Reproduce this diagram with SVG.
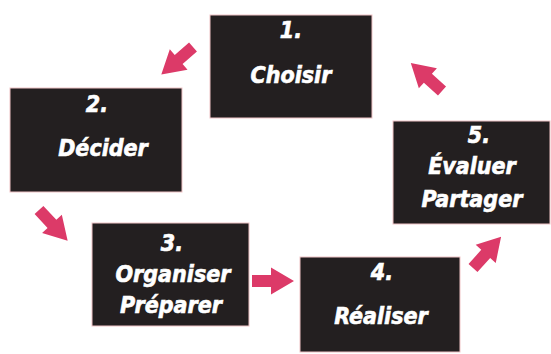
<svg xmlns="http://www.w3.org/2000/svg" width="551" height="354" viewBox="0 0 551 354">
<style>
.box{fill:#231f20;stroke:#f0c4c6;stroke-width:1}
.t{fill:#ffffff;stroke:#ffffff;stroke-width:0.6;font-family:"DejaVu Sans Condensed","Liberation Sans Narrow","DejaVu Sans",sans-serif;font-weight:bold;font-style:italic;font-size:23px;text-anchor:middle}
.arr{fill:#dc3a68}
</style>
<defs>
<polygon id="arrow" points="0,-6 19,-6 19,-13.5 42,0 19,13.5 19,6 0,6"/>
</defs>
<rect width="551" height="354" fill="#ffffff"/>
<g id="connectors" class="arr">
<use href="#arrow" transform="translate(193,47) rotate(139)"/>
<use href="#arrow" transform="translate(39,210) rotate(47)"/>
<use href="#arrow" transform="translate(252,281)"/>
<use href="#arrow" transform="translate(473,268) rotate(-48)"/>
<use href="#arrow" transform="translate(442,91) rotate(-138)"/>
</g>
<g id="node1">
<rect class="box" x="210" y="15" width="162" height="103"/>
<text class="t" x="291" y="38">1.</text>
<text class="t" x="291" y="83">Choisir</text>
</g>
<g id="node2">
<rect class="box" x="10" y="88" width="172" height="104"/>
<text class="t" x="97" y="112">2.</text>
<text class="t" x="103" y="156">Décider</text>
</g>
<g id="node3">
<rect class="box" x="92" y="223" width="157" height="103"/>
<text class="t" x="172" y="251">3.</text>
<text class="t" x="173" y="282">Organiser</text>
<text class="t" x="171" y="313">Préparer</text>
</g>
<g id="node4">
<rect class="box" x="300" y="257" width="160" height="95"/>
<text class="t" x="382" y="280">4.</text>
<text class="t" x="381" y="324">Réaliser</text>
</g>
<g id="node5">
<rect class="box" x="393" y="121" width="157" height="103"/>
<text class="t" x="479" y="143">5.</text>
<text class="t" x="472" y="174">Évaluer</text>
<text class="t" x="472" y="207">Partager</text>
</g>
</svg>
